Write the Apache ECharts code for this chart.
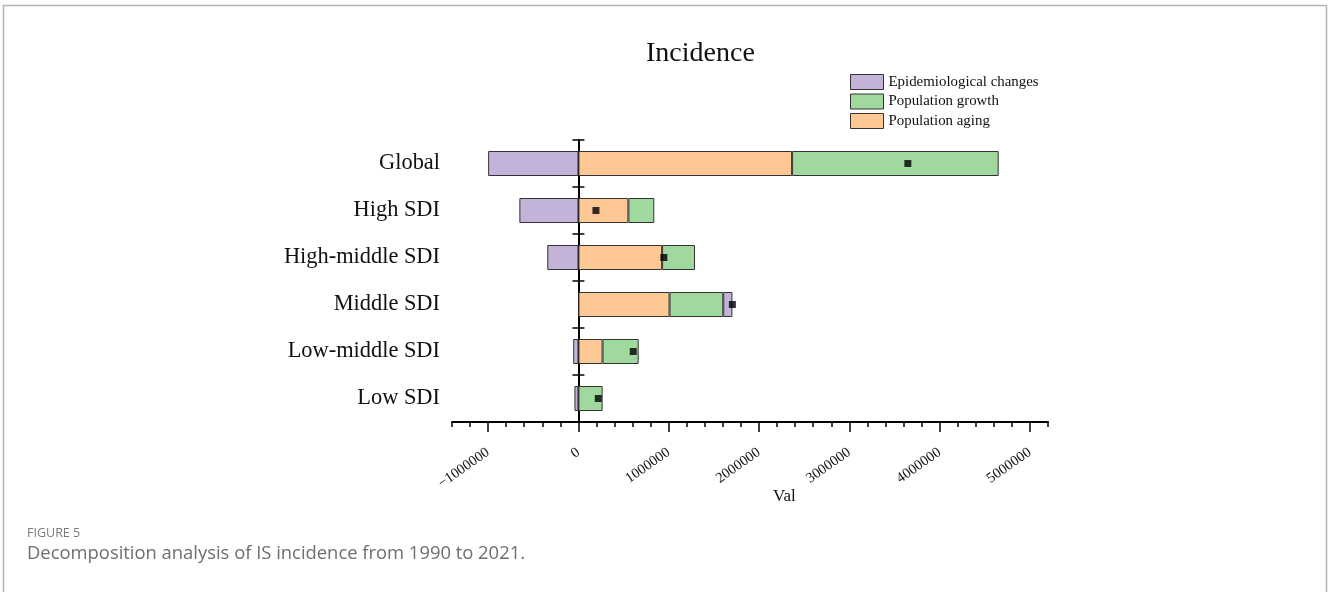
<!DOCTYPE html>
<html>
<head>
<meta charset="utf-8">
<script src="https://cdn.jsdelivr.net/npm/echarts@6/dist/echarts.min.js"></script>
<style>
  html, body { margin: 0; padding: 0; background: #fff; }
  #chart { width: 1330px; height: 592px; }
</style>
</head>
<body>
<div id="chart"></div>
<script>
// Decomposition of incidence change (1990-2021) by driver and SDI region
const categories = ['Global', 'High SDI', 'High-middle SDI', 'Middle SDI', 'Low-middle SDI', 'Low SDI'];
const populationAging = [2366000, 553000, 927000, 1009000, 267000, 0];
const populationGrowth = [2288000, 287000, 364000, 595000, 400000, 268000];
const epidemiologicalChanges = [-1000000, -654000, -345000, 101000, -58000, -44000];
const overallChange = [3648000, 194000, 946000, 1705000, 607000, 220000];
const majorTicks = [-1000000, 0, 1000000, 2000000, 3000000, 4000000, 5000000];

const serif = '"Liberation Serif", "Times New Roman", serif';
const sans = '"Open Sans", "Noto Sans", sans-serif';
const colors = { epi: '#c4b3d9', growth: '#a0d99e', aging: '#fec895' };
const edge = '#333';

const chart = echarts.init(document.getElementById('chart'), null, { renderer: 'canvas' });

const xBase = {
  type: 'value',
  min: -1400000,
  max: 5200000,
  interval: 200000,
  position: 'bottom',
  splitLine: { show: false }
};

const yBase = {
  type: 'category',
  data: categories,
  inverse: true,
  splitLine: { show: false }
};

const barSeries = (name, data, color) => ({
  name,
  type: 'bar',
  stack: 'total',
  data,
  barWidth: 25,
  xAxisIndex: 0,
  yAxisIndex: 0,
  itemStyle: { color, borderColor: edge, borderWidth: 1 },
  emphasis: { disabled: true }
});

chart.setOption({
  animation: false,
  backgroundColor: '#fff',
  textStyle: { fontFamily: serif },
  grid: { left: 452, right: 282, top: 140, height: 282, containLabel: false },
  legend: {
    orient: 'vertical',
    left: 850,
    top: 74,
    padding: 0,
    itemWidth: 33,
    itemHeight: 15,
    itemGap: 3.5,
    icon: 'rect',
    data: ['Epidemiological changes', 'Population growth', 'Population aging'],
    itemStyle: { borderColor: edge, borderWidth: 1 },
    textStyle: { fontFamily: serif, fontSize: 14.9, color: '#111' }
  },
  graphic: [
    {
      type: 'rect',
      silent: true,
      shape: { x: 3.5, y: 5.5, width: 1323, height: 620 },
      style: { fill: 'none', stroke: '#b4b4b4', lineWidth: 1.5 }
    },
    {
      type: 'text', left: 646, top: 40,
      style: { text: 'Incidence', font: '28px ' + serif, fill: '#111' }
    },
    {
      type: 'text', left: 773, top: 488,
      style: { text: 'Val', font: '17px ' + serif, fill: '#111' }
    },
    {
      type: 'text', left: 27, top: 527,
      style: { text: 'FIGURE 5', font: '12.5px ' + sans, fill: '#7a7a7a' }
    },
    {
      type: 'text', left: 27, top: 545,
      style: { text: 'Decomposition analysis of IS incidence from 1990 to 2021.', font: '18.4px ' + sans, fill: '#6e6e6e' }
    }
  ],
  xAxis: [
    Object.assign({}, xBase, {
      axisLine: { show: true, onZero: false, lineStyle: { color: '#000', width: 2 } },
      axisTick: { show: true, length: 5, lineStyle: { color: '#000', width: 1.5 } },
      axisLabel: {
        show: true,
        rotate: 35,
        margin: 29,
        fontFamily: serif,
        fontSize: 14.5,
        color: '#111',
        formatter: v => {
          const r = Math.round(v);
          if (r % 1000000 !== 0) return '';
          return r < 0 ? '\u2212' + Math.abs(r) : String(r);
        }
      }
    }),
    Object.assign({}, xBase, {
      axisLine: { show: false, onZero: false },
      axisTick: { show: true, length: 10, customValues: majorTicks, lineStyle: { color: '#000', width: 1.5 } },
      axisLabel: { show: false }
    })
  ],
  yAxis: [
    Object.assign({}, yBase, {
      position: 'left',
      axisLine: { show: true, onZero: true, lineStyle: { color: '#000', width: 2 } },
      axisTick: { show: true, length: 6, lineStyle: { color: '#000', width: 1.5 } },
      axisLabel: { show: false }
    }),
    Object.assign({}, yBase, {
      position: 'left',
      axisLine: { show: false, onZero: true },
      axisTick: { show: true, inside: true, length: 6, lineStyle: { color: '#000', width: 1.5 } },
      axisLabel: { show: false }
    }),
    Object.assign({}, yBase, {
      position: 'left',
      axisLine: { show: false, onZero: false },
      axisTick: { show: false },
      axisLabel: { show: true, margin: 12, fontFamily: serif, fontSize: 22.4, color: '#111', lineHeight: 26, padding: [4, 0, 0, 0] }
    })
  ],
  series: [
    barSeries('Population aging', populationAging, colors.aging),
    barSeries('Population growth', populationGrowth, colors.growth),
    barSeries('Epidemiological changes', epidemiologicalChanges, colors.epi),
    {
      name: 'Overall change',
      type: 'scatter',
      xAxisIndex: 0,
      yAxisIndex: 0,
      symbol: 'rect',
      symbolSize: 7,
      z: 5,
      itemStyle: { color: '#000' },
      data: overallChange.map((v, i) => [v, categories[i]]),
      emphasis: { disabled: true }
    }
  ]
});
</script>
</body>
</html>
